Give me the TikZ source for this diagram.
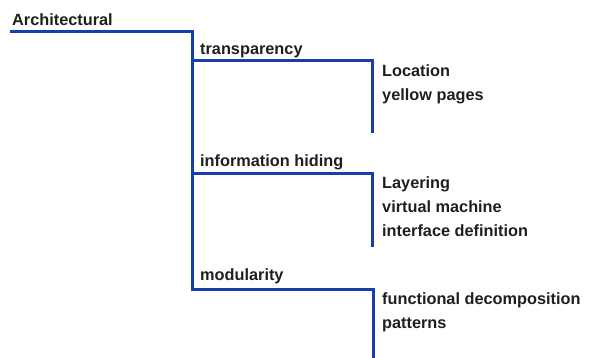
\documentclass[tikz,border=0pt]{standalone}
\usepackage{fontspec}
\setmainfont{Liberation Sans}
\definecolor{treeblue}{RGB}{22,62,172}
\begin{document}
\begin{tikzpicture}[x=1pt,y=-1pt,
  lbl/.style={anchor=base west,inner sep=0pt,font=\fontsize{16.3}{19}\selectfont\bfseries,text=black!88},
  tree/.style={draw=treeblue,line width=3pt,line join=miter}]
\useasboundingbox (0,0) rectangle (592,358);
% texts
\node[lbl] (arch) at (12,26) {Architectural};
\node[lbl] (trans) at (200,55) {transparency};
\node[lbl] (loc) at (382,77) {Location};
\node[lbl] (yp) at (382,101) {yellow pages};
\node[lbl] (info) at (200,167) {information hiding};
\node[lbl] (lay) at (382,189) {Layering};
\node[lbl] (vm) at (382,213) {virtual machine};
\node[lbl] (ifd) at (382,237) {interface definition};
\node[lbl] (mod) at (200,280) {modularity};
\node[lbl] (fd) at (382,305) {functional decomposition};
\node[lbl] (pat) at (382,328) {patterns};
% line corners
\coordinate (a0) at (10,32);
\coordinate (a1) at (192,32);
\coordinate (t0) at (192,61);
\coordinate (t1) at (372,61);
\coordinate (t2) at (372,133);
\coordinate (i0) at (192,174);
\coordinate (i1) at (372,174);
\coordinate (i2) at (372,247);
\coordinate (m0) at (192,290);
\coordinate (m1) at (373,290);
\coordinate (m2) at (373,358);
% connectors
\draw[tree] (a0) -- (a1) -- (m0) -- (m1) -- (m2);
\draw[tree] (t0) -- (t1) -- (t2);
\draw[tree] (i0) -- (i1) -- (i2);
\end{tikzpicture}
\end{document}
